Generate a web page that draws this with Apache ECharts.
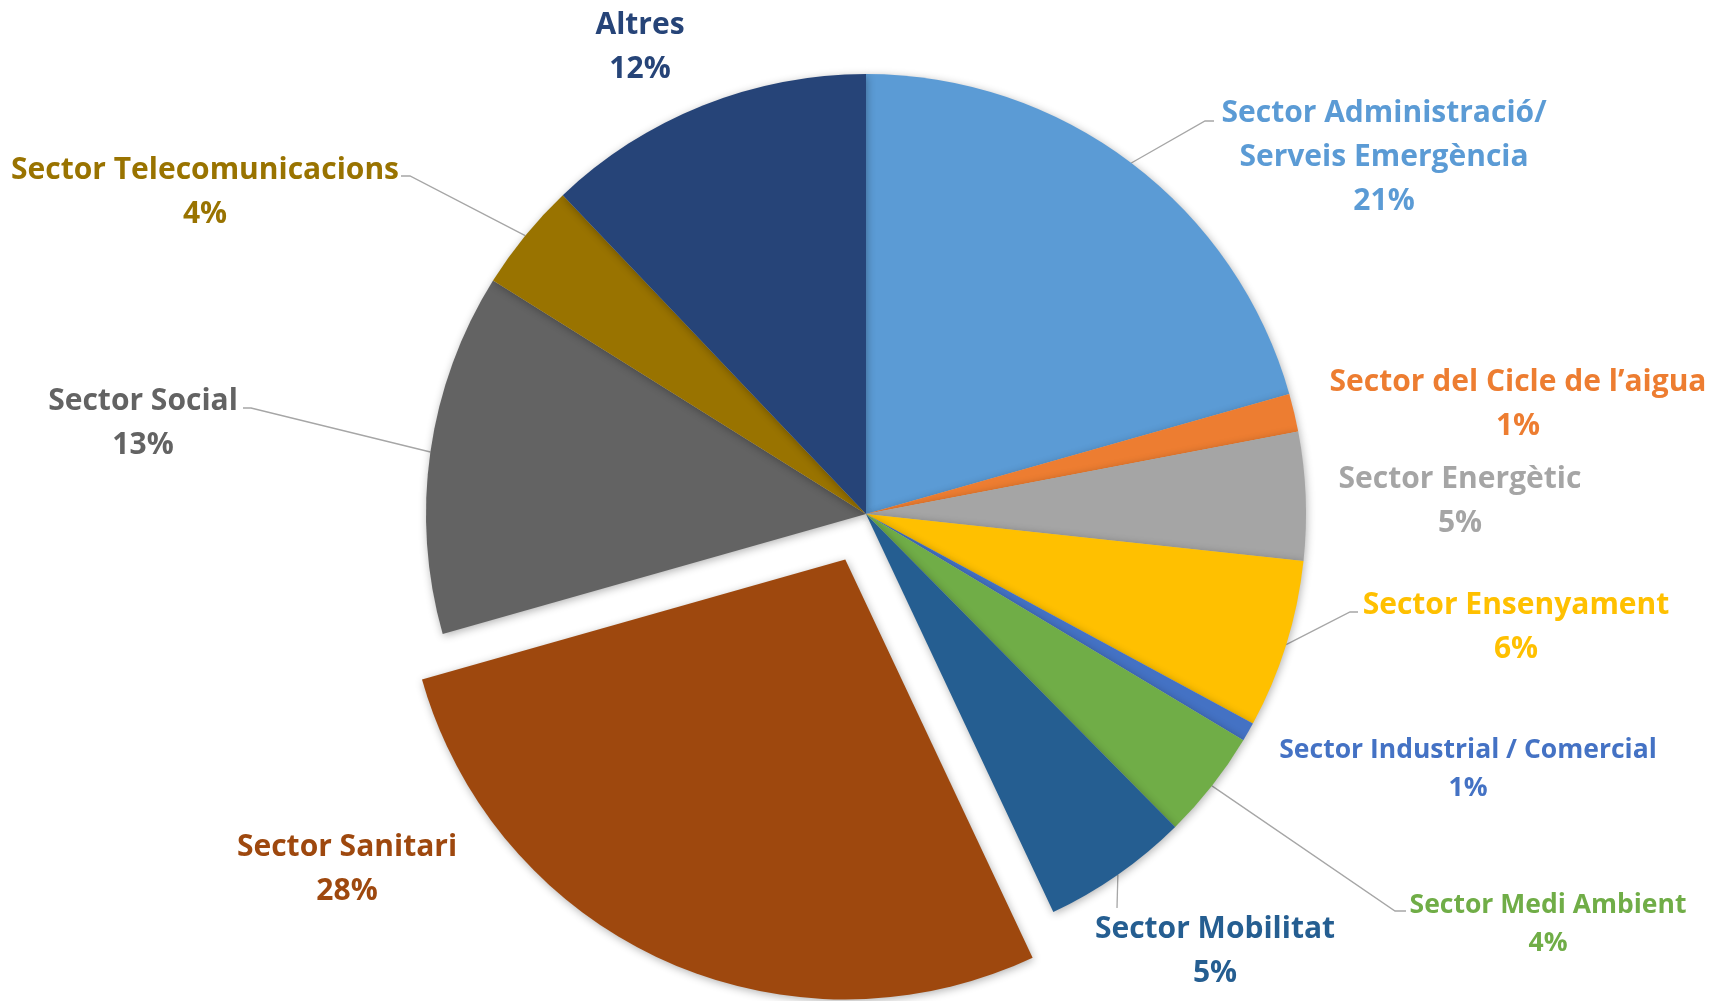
<!DOCTYPE html>
<html>
<head>
<meta charset="utf-8">
<script src="https://cdn.jsdelivr.net/npm/echarts@6/dist/echarts.min.js"></script>
<style>
html,body{margin:0;padding:0;background:#fff;}
#chart{width:1729px;height:1001px;}
</style>
</head>
<body>
<div id="chart"></div>
<script>
// Data
const categories = [
  "Sector Administració/\nServeis Emergència",
  "Sector del Cicle de l\u2019aigua",
  "Sector Energètic",
  "Sector Ensenyament",
  "Sector Industrial / Comercial",
  "Sector Medi Ambient",
  "Sector Mobilitat",
  "Sector Sanitari",
  "Sector Social",
  "Sector Telecomunicacions",
  "Altres"
];
const values = [20.6, 1.4, 4.7, 6.2, 0.7, 4.0, 5.4, 27.6, 13.3, 4.0, 12.1];
const colors = ["#5B9BD5", "#ED7D31", "#A5A5A5", "#FFC000", "#4472C4", "#70AD47",
                "#255E91", "#9E480E", "#636363", "#997300", "#264478"];
const explodedIndex = 7;

// Label placement (layout, not data)
const labelPos = [
  {x: 1384, y: 157, line: [[1205, 121], [1214, 121]]},
  {x: 1518, y: 404},
  {x: 1460, y: 501},
  {x: 1516, y: 627, line: [[1350, 612], [1358, 612]]},
  {x: 1468, y: 769, small: true},
  {x: 1548, y: 924, small: true, line: [[1395, 911], [1406, 911]]},
  {x: 1215, y: 951, line: [[1117, 908], [1117, 908]]},
  {x: 347, y: 869},
  {x: 143, y: 423, line: [[251, 408], [243, 408]]},
  {x: 205, y: 192, line: [[410, 176], [401, 176]]},
  {x: 640, y: 47}
];

const CX = 866, CY = 514, R = 440, EXPLODE = 50;
const total = values.reduce((a, b) => a + b, 0);
const FONT = '"Open Sans", "Noto Sans", sans-serif';

// offset of the exploded slice along its mid-angle
let before = 0;
for (let i = 0; i < explodedIndex; i++) before += values[i];
const midAngle = (before + values[explodedIndex] / 2) / total * 2 * Math.PI;
const exCenter = [CX + EXPLODE * Math.sin(midAngle), CY - EXPLODE * Math.cos(midAngle)];

function makeData(forExploded) {
  return categories.map((name, i) => {
    const small = !!labelPos[i].small;
    const visible = forExploded ? (i === explodedIndex) : (i !== explodedIndex);
    return {
      name: name,
      value: values[i],
      itemStyle: visible ? {color: colors[i]} : {color: colors[i], opacity: 0, shadowBlur: 0},
      label: {
        show: visible,
        color: colors[i],
        fontSize: small ? 26.5 : 30,
        lineHeight: small ? 38 : 44
      },
      labelLine: {show: visible && !!labelPos[i].line}
    };
  });
}

function baseSeries(center, forExploded) {
  return {
    type: 'pie',
    center: center,
    radius: R,
    startAngle: 90,
    clockwise: true,
    silent: true,
    avoidLabelOverlap: false,
    emphasis: {disabled: true},
    itemStyle: {
      borderWidth: 0,
      shadowBlur: 8,
      shadowColor: 'rgba(0,0,0,0.3)',
      shadowOffsetX: 1,
      shadowOffsetY: 2
    },
    label: {
      show: true,
      position: 'outside',
      fontFamily: FONT,
      fontWeight: 'bold',
      align: 'center',
      formatter: function (p) {
        return p.name + '\n' + Math.round(p.value / total * 100) + '%';
      }
    },
    labelLine: {
      show: true,
      lineStyle: {color: '#A6A6A6', width: 1.3}
    },
    labelLayout: function (params) {
      const pos = labelPos[params.dataIndex];
      const out = {x: pos.x, y: pos.y, align: 'center', verticalAlign: 'middle'};
      if (pos.line && params.labelLinePoints) {
        const start = params.labelLinePoints[0];
        out.labelLinePoints = [start, pos.line[0], pos.line[1]];
      }
      return out;
    },
    data: makeData(forExploded)
  };
}

const chart = echarts.init(document.getElementById('chart'), null, {renderer: 'canvas'});
chart.setOption({
  animation: false,
  backgroundColor: '#ffffff',
  series: [
    baseSeries([CX, CY], false),
    baseSeries(exCenter, true)
  ]
});
</script>
</body>
</html>
